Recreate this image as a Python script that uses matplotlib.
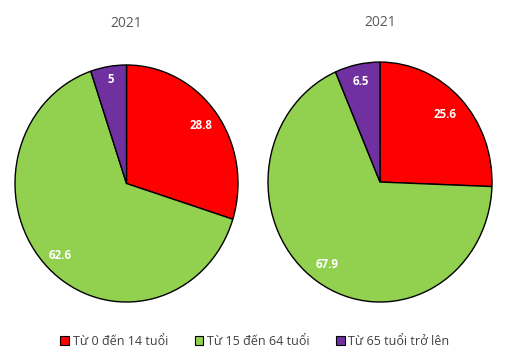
import numpy as np
import matplotlib.pyplot as plt
from matplotlib.patches import Patch

plt.rcParams['font.family'] = ['Open Sans', 'DejaVu Sans']

groups = ['Từ 0 đến 14 tuổi', 'Từ 15 đến 64 tuổi', 'Từ 65 tuổi trở lên']
colors = ['#FF0000', '#92D050', '#7030A0']
titles = ['2021', '2021']
values_left = [28.8, 62.6, 5]
values_right = [25.6, 67.9, 6.5]
labels_left = ['28.8', '62.6', '5']
labels_right = ['25.6', '67.9', '6.5']

fig = plt.figure(figsize=(5.05, 3.63), dpi=100)

# axes boxes match where the (slightly stretched) pies sit in the picture
ax1 = fig.add_axes([0.0297, 0.168, 0.4416, 0.653])
ax2 = fig.add_axes([0.5307, 0.168, 0.4436, 0.661])


def draw_pie(ax, vals, labs, title, dists, pad):
    wedges, _ = ax.pie(vals, colors=colors, startangle=90, counterclock=False,
                       wedgeprops=dict(edgecolor='black', linewidth=1.0))
    for w, lab, d in zip(wedges, labs, dists):
        w.set_clip_on(False)
        ang = np.deg2rad((w.theta1 + w.theta2) / 2)
        ax.text(d * np.cos(ang), d * np.sin(ang), lab, color='white',
                fontsize=8.3, fontweight='bold', ha='center', va='center')
    ax.set_aspect('auto')
    ax.set_xlim(-1, 1)
    ax.set_ylim(-1, 1)
    ax.set_title(title, color='#595959', fontsize=10, pad=pad)


draw_pie(ax1, values_left, labels_left, titles[0], [0.83, 0.85, 0.89], 27)
draw_pie(ax2, values_right, labels_right, titles[1], [0.81, 0.83, 0.86], 26)

handles = [Patch(facecolor=c, edgecolor='black', linewidth=0.8) for c in colors]
fig.legend(handles, groups, loc='center', bbox_to_anchor=(0.505, 0.06), ncol=3,
           frameon=False, fontsize=9.0, labelcolor='#404040',
           handlelength=0.7, handleheight=0.7, handletextpad=0.3,
           columnspacing=2.1)

fig.savefig('out.png', dpi=100)
